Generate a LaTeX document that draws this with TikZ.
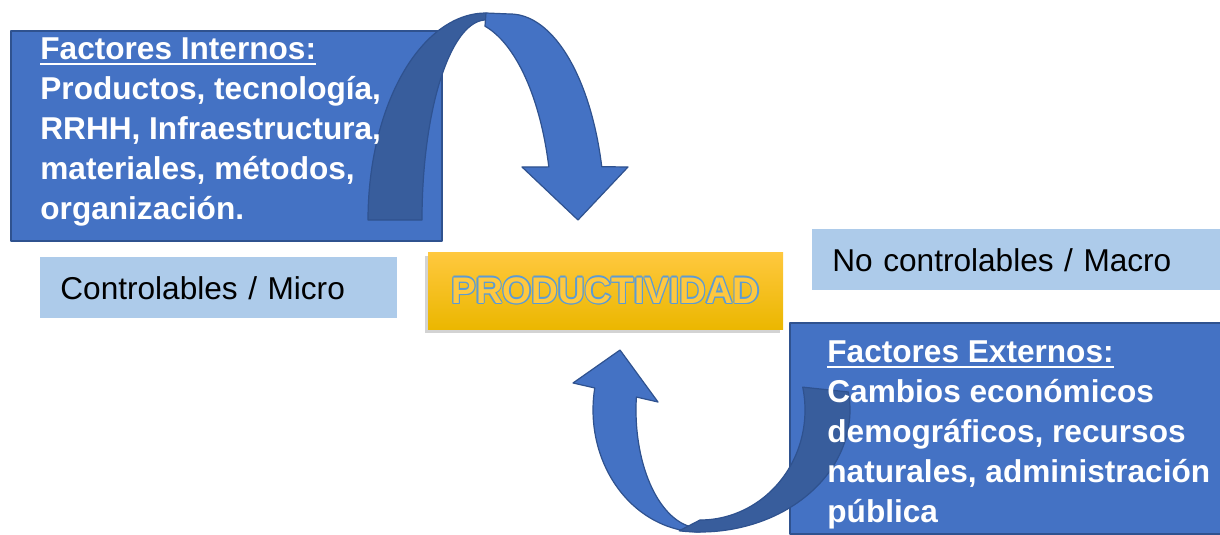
\documentclass[tikz,border=0pt]{standalone}
\usepackage{fontspec}
\setmainfont{Liberation Sans}
\usetikzlibrary{shadows}
\definecolor{boxblue}{HTML}{4472C4}
\definecolor{edgeblue}{HTML}{2F528F}
\definecolor{darkblue}{HTML}{385D9C}
\definecolor{paleblue}{HTML}{ADCBEA}
\definecolor{goldtop}{HTML}{FFC83F}
\definecolor{goldmid}{HTML}{FFC000}
\definecolor{goldbot}{HTML}{EBB700}
\definecolor{outlineblue}{HTML}{5B9BD5}
% subrayado y letras huecas
\newcommand{\ulined}[1]{\setbox0\hbox{#1}\rlap{\rule[-3pt]{\wd0}{1pt}}\box0}
\newcommand{\hollow}[1]{\setbox0\hbox{#1}%
	\rlap{\color{outlineblue}\kern0.65pt\copy0}\rlap{\color{outlineblue}\kern-0.65pt\copy0}%
	\rlap{\color{outlineblue}\raise0.65pt\copy0}\rlap{\color{outlineblue}\lower0.65pt\copy0}%
	\rlap{\color{outlineblue}\kern0.46pt\raise0.46pt\copy0}\rlap{\color{outlineblue}\kern-0.46pt\raise0.46pt\copy0}%
	\rlap{\color{outlineblue}\kern0.46pt\lower0.46pt\copy0}\rlap{\color{outlineblue}\kern-0.46pt\lower0.46pt\copy0}%
	{\color{goldtop}\box0}}
\begin{document}
\begin{tikzpicture}[x=0.5pt, y=-0.5pt, line join=round,
	bluebox/.style={draw=edgeblue, fill=boxblue, line width=0.8pt, inner sep=0pt, anchor=north west},
	boxtext/.style={text=white, font=\fontsize{15.8}{20}\selectfont\bfseries, align=left, inner sep=0pt, anchor=north west},
	palebox/.style={fill=paleblue, inner xsep=10pt, inner ysep=0pt, minimum height=30.5pt, anchor=north west, font=\fontsize{15.8}{19}\selectfont, align=left},
	prodbox/.style={minimum width=177.5pt, minimum height=38.5pt, top color=goldtop, middle color=goldmid, bottom color=goldbot, drop shadow={shadow xshift=-1.5pt, shadow yshift=-2pt, opacity=0.35}, font=\fontsize{18.5}{20}\selectfont\bfseries},
	arrowlight/.style={draw=edgeblue, fill=boxblue, line width=0.6pt},
	arrowdark/.style={draw=edgeblue, fill=darkblue, line width=0.6pt}]
	\useasboundingbox (0,0) rectangle (1220,535);
	\def\cya{220} % arco superior
	\def\cxb{700} \def\cyb{410} % arco inferior
	% cajas
	\node[bluebox, minimum width=215.5pt, minimum height=105pt] (internos) at (10,30) {};
	\node[bluebox, minimum width=215.5pt, minimum height=105.5pt] (externos) at (789,322) {};
	\node[palebox, text width=158.5pt] (micro) at (40,257) {Controlables / Micro};
	\node[palebox, text width=184pt] (macro) at (812,229) {No controlables / Macro};
	\node[prodbox] (prod) at (605.5,290.5) {\hollow{PRODUCTIVIDAD}};
	% flecha superior
	\draw[arrowdark] plot[smooth, samples=40, domain=180:90] ({486+118*cos(\x)},{\cya-207*sin(\x)}) -- plot[smooth, samples=40, domain=90:180] ({486+64*cos(\x)},{\cya-200*sin(\x)}) -- cycle;
	\draw[arrowlight] plot[smooth, samples=40, domain=90:15] ({510+95*cos(\x)},{\cya-206*sin(\x)}) -- (628,167) -- (578,220) -- (522,167) -- plot[smooth, samples=40, domain=15.4:75.7] ({463+89*cos(\x)},{\cya-200*sin(\x)}) -- (486,13) -- cycle;
	% flecha inferior
	\draw[arrowlight] plot[smooth, samples=40, domain=169.6:270] ({\cxb+107*cos(\x)},{\cyb-122*sin(\x)}) -- plot[smooth, samples=40, domain=270:173.7] ({\cxb+64*cos(\x)},{\cyb-118*sin(\x)}) -- (658,402) -- (620,350) -- (573,383) -- cycle;
	\draw[arrowdark] plot[smooth, samples=40, domain=262:368.5] ({\cxb+150*cos(\x)},{\cyb-122*sin(\x)}) -- plot[smooth, samples=40, domain=372:270] ({\cxb+105*cos(\x)},{\cyb-110*sin(\x)}) -- cycle;
	% textos
	\node[boxtext] (internostxt) at ([xshift=15pt, yshift=-3.5pt]internos.north west) {\ulined{Factores Internos:}\\ Productos, tecnología,\\ RRHH, Infraestructura,\\ materiales, métodos,\\ organización.};
	\node[boxtext] (externostxt) at ([xshift=19pt, yshift=-9pt]externos.north west) {\ulined{Factores Externos:}\\ Cambios económicos\\ demográficos, recursos\\ naturales, administración\\ pública};
\end{tikzpicture}
\end{document}
